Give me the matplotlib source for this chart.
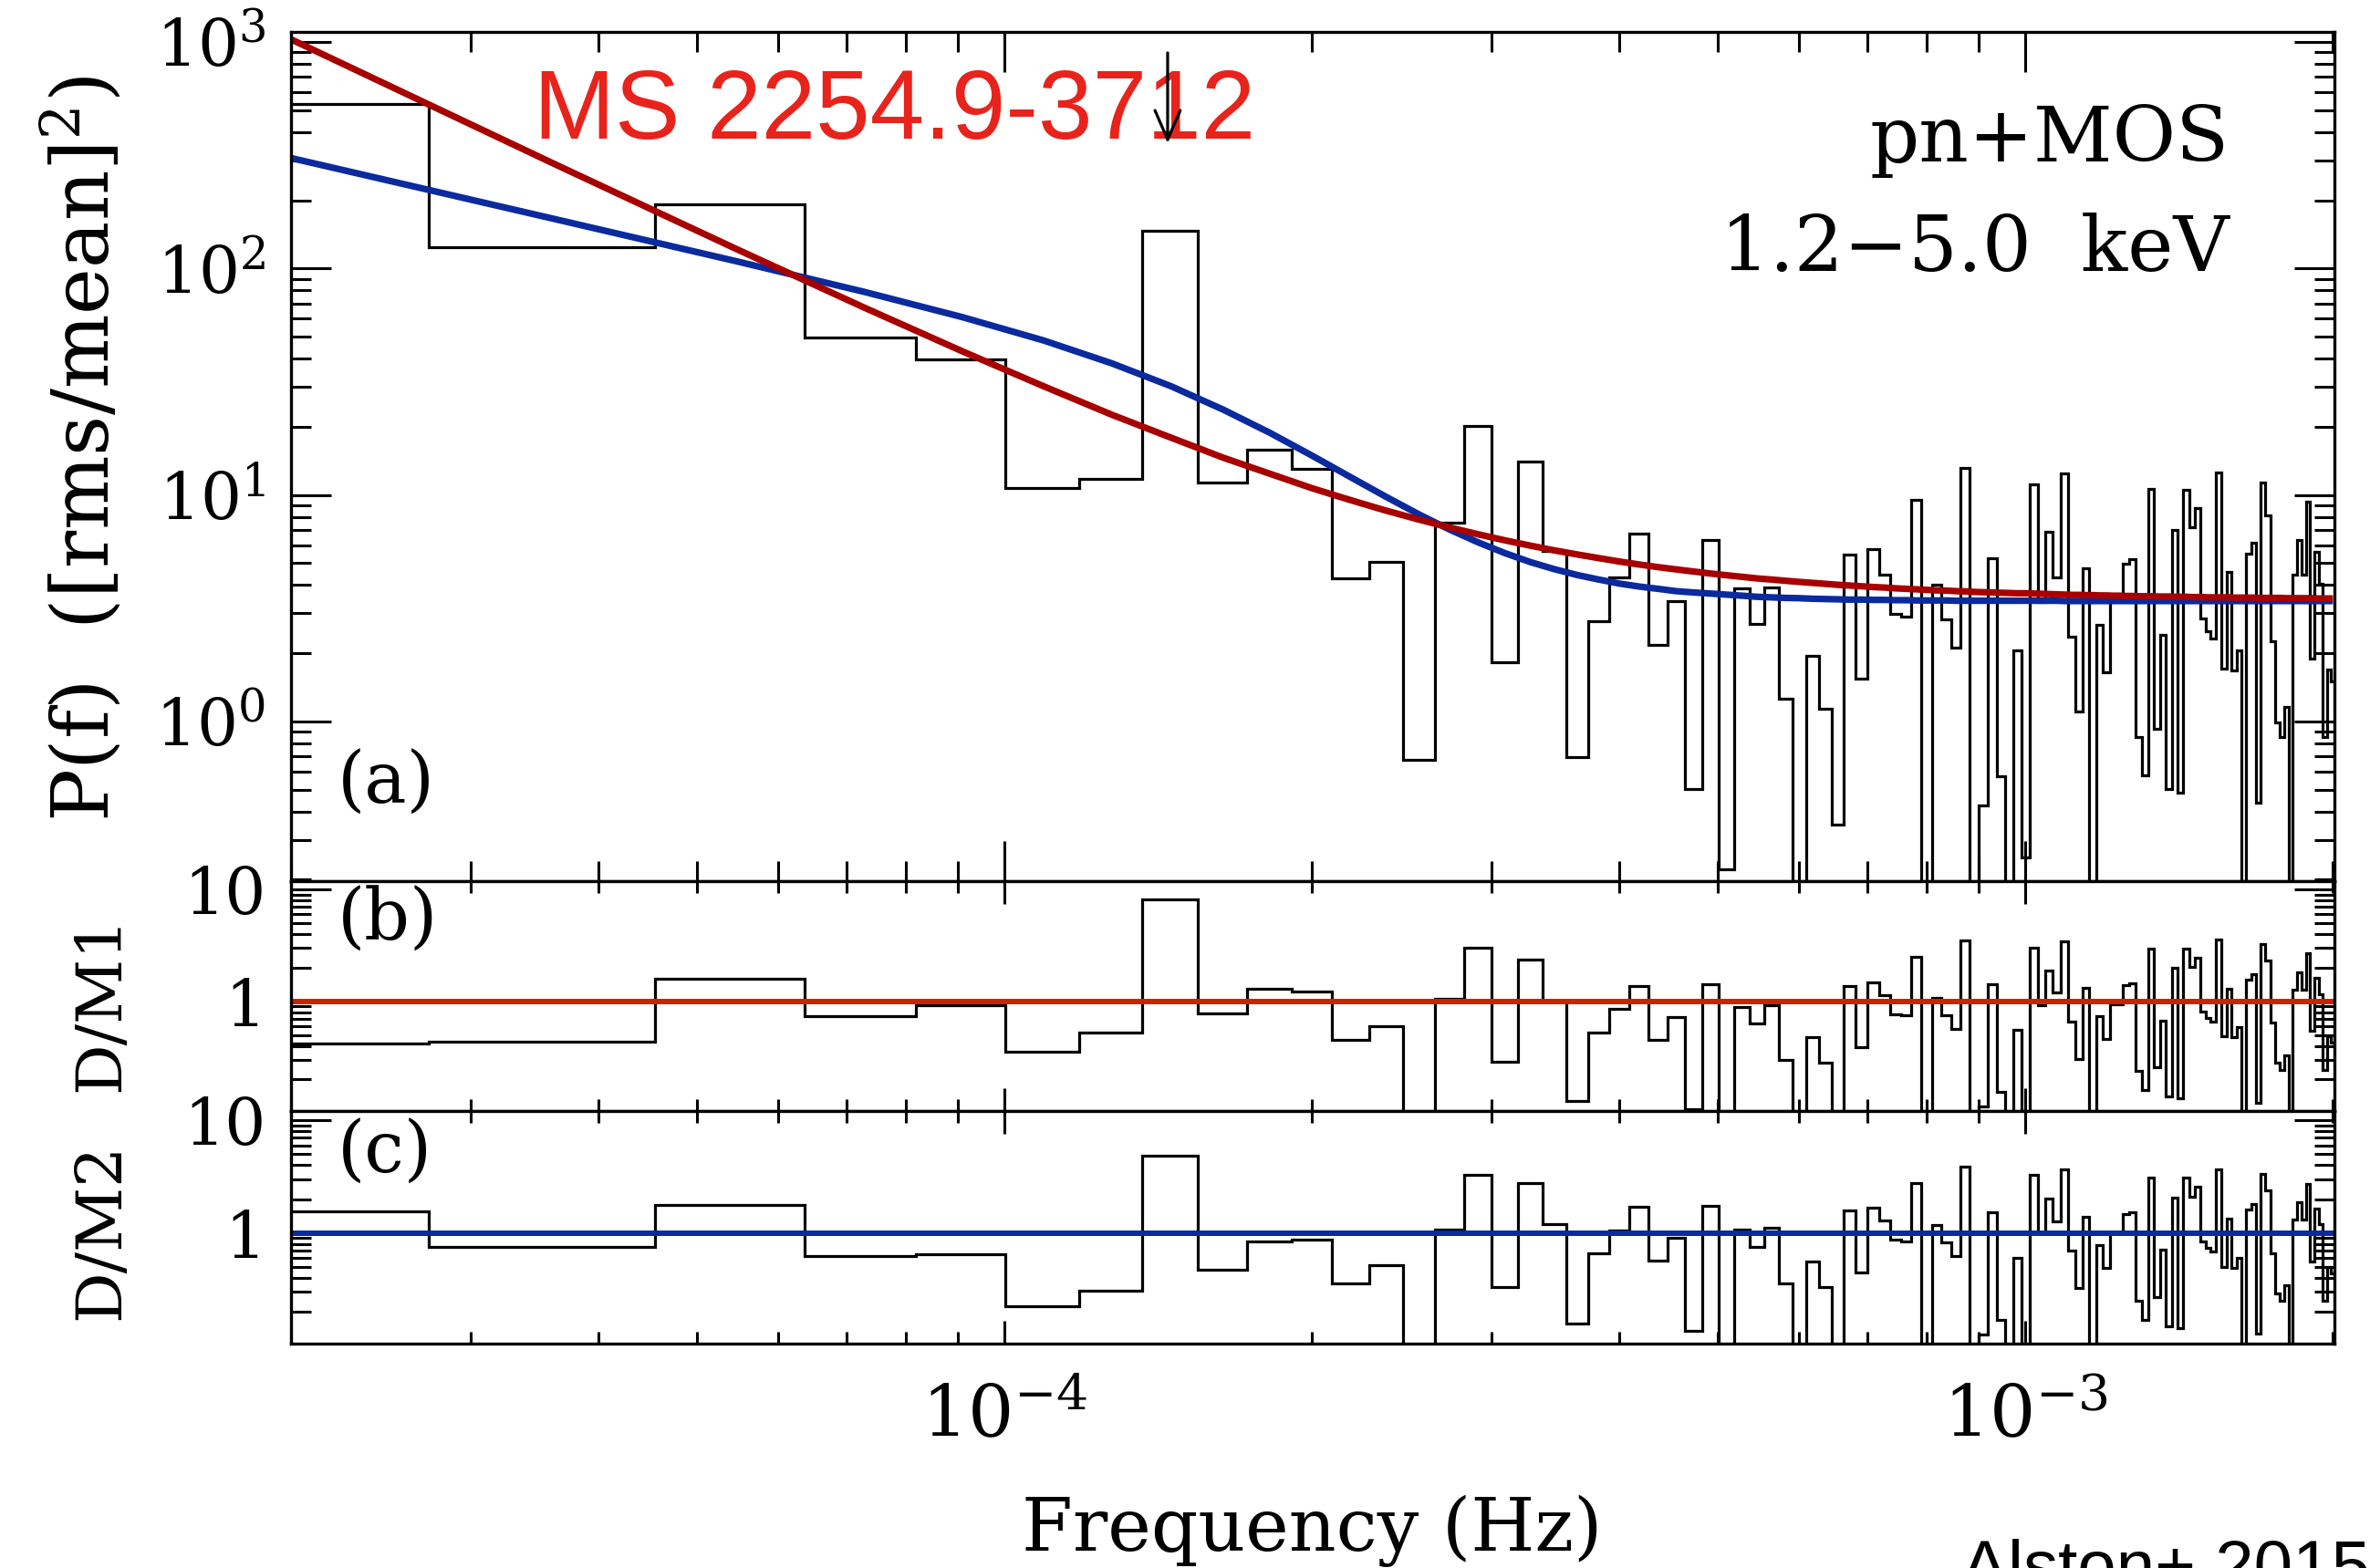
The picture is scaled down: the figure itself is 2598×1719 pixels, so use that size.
import matplotlib
matplotlib.use('Agg')
import matplotlib.pyplot as plt
from matplotlib.ticker import LogLocator, NullFormatter
import numpy as np

# periodogram resolution (Hz); bins n = 1..110 sit at n * DF
DF = 1.82e-5
bin_index = np.arange(1, 111)

# binned power P(f); 0.08 = bins that fall below the axis
power = [
    530, 124, 192, 49.6, 39.6, 10.7, 11.8, 146, 11.3, 15.9,
    13.0, 4.27, 5.08, 0.675, 7.52, 20.2, 1.83, 14.0, 5.64, 0.696,
    2.78, 4.31, 6.75, 2.17, 3.39, 0.503, 6.34, 0.222, 3.87, 2.69,
    3.90, 1.26, 0.08, 1.94, 1.14, 0.350, 5.44, 1.54, 5.78, 4.45,
    2.98, 2.90, 9.48, 0.08, 4.03, 2.82, 2.12, 13.2, 0.08, 0.424,
    5.24, 0.573, 0.08, 2.05, 0.251, 11.1, 3.37, 6.86, 4.34, 12.5,
    2.36, 1.11, 4.73, 0.08, 2.67, 1.65, 3.40, 3.40, 4.96, 5.19,
    0.851, 0.578, 10.6, 0.925, 2.40, 0.503, 7.02, 0.483, 10.5, 7.18,
    8.73, 2.84, 2.51, 2.32, 12.6, 1.71, 4.58, 1.68, 2.05, 0.08,
    5.52, 6.15, 0.438, 11.3, 8.12, 2.25, 0.99, 0.85, 1.16, 0.08,
    4.45, 6.34, 4.45, 9.34, 1.90, 5.61, 4.05, 0.85, 1.70, 1.50,
]

# model 1 (red curve) read at the bin frequencies
model1 = [
    1256, 286.3, 121.9, 67.3, 43.0, 30.2, 22.6, 17.9, 14.6, 12.4,
    10.7, 9.48, 8.52, 7.78, 7.18, 6.70, 6.30, 5.97, 5.69, 5.46,
    5.26, 5.08, 4.93, 4.80, 4.69, 4.59, 4.50, 4.42, 4.35, 4.28,
    4.23, 4.18, 4.13, 4.09, 4.05, 4.01, 3.98, 3.95, 3.92, 3.90,
    3.87, 3.85, 3.83, 3.81, 3.79, 3.78, 3.76, 3.75, 3.73, 3.72,
    3.71, 3.70, 3.69, 3.68, 3.68, 3.67, 3.66, 3.65, 3.64, 3.63,
    3.62, 3.62, 3.61, 3.61, 3.60, 3.60, 3.59, 3.59, 3.58, 3.58,
    3.57, 3.57, 3.57, 3.56, 3.56, 3.56, 3.55, 3.55, 3.55, 3.54,
    3.54, 3.54, 3.53, 3.53, 3.53, 3.53, 3.53, 3.52, 3.52, 3.52,
    3.52, 3.52, 3.51, 3.51, 3.51, 3.51, 3.51, 3.51, 3.50, 3.50,
    3.50, 3.50, 3.50, 3.50, 3.50, 3.49, 3.49, 3.49, 3.49, 3.49,
]

# model 2 (blue curve, bending power law) read at the bin frequencies
model2 = [
    338.9, 164.5, 107.6, 78.9, 60.9, 48.1, 38.1, 30.2, 23.8, 18.8,
    14.9, 11.97, 9.80, 8.20, 7.03, 6.17, 5.53, 5.05, 4.70, 4.43,
    4.23, 4.06, 3.94, 3.85, 3.76, 3.71, 3.67, 3.63, 3.59, 3.55,
    3.53, 3.51, 3.50, 3.48, 3.47, 3.46, 3.45, 3.45, 3.44, 3.44,
    3.43, 3.43, 3.42, 3.42, 3.42, 3.42, 3.41, 3.41, 3.41, 3.41,
    3.41, 3.41, 3.41, 3.41, 3.41, 3.41, 3.41, 3.41, 3.41, 3.40,
    3.40, 3.40, 3.40, 3.40, 3.40, 3.40, 3.40, 3.40, 3.40, 3.40,
    3.40, 3.40, 3.40, 3.40, 3.40, 3.40, 3.40, 3.40, 3.40, 3.40,
    3.40, 3.40, 3.40, 3.40, 3.40, 3.40, 3.40, 3.40, 3.40, 3.40,
    3.40, 3.40, 3.40, 3.40, 3.40, 3.40, 3.40, 3.40, 3.40, 3.40,
    3.40, 3.40, 3.40, 3.40, 3.40, 3.40, 3.40, 3.40, 3.40, 3.40,
]

# candidate feature marked by the arrow (Hz) and the arrow's extent in P
qpo_freq = 1.445e-4
arrow_top, arrow_tip = 895, 357

RED = '#a80000'
BLUE = '#0a2a9e'
ORANGE = '#c82400'
TITLE_RED = '#e8231b'

plt.rcParams['font.family'] = ['DejaVu Serif']
plt.rcParams['mathtext.fontset'] = 'dejavuserif'


def style_axis(ax, xmaj, xmin, ymaj=31.7, ymin=15.8):
    ax.set_xscale('log')
    ax.set_yscale('log')
    ax.set_xlim(2e-5, 2.007e-3)
    for s in ax.spines.values():
        s.set_linewidth(2.4)
    ax.tick_params(which='both', direction='in', top=True, right=True,
                   width=2.2, labelsize=51, pad=20)
    ax.xaxis.set_tick_params(which='major', length=xmaj)
    ax.xaxis.set_tick_params(which='minor', length=xmin)
    ax.yaxis.set_tick_params(which='major', length=ymaj)
    ax.yaxis.set_tick_params(which='minor', length=ymin)
    ax.set_xticks([1e-4, 1e-3])
    ax.xaxis.set_minor_locator(LogLocator(base=10, subs=np.arange(2, 10)))
    ax.xaxis.set_minor_formatter(NullFormatter())
    ax.yaxis.set_minor_locator(LogLocator(base=10, subs=np.arange(2, 10)))
    ax.yaxis.set_minor_formatter(NullFormatter())


def main():
    freq = bin_index * DF
    edges = (np.arange(0, 111) + 0.5) * DF
    p = np.array(power)
    m1 = np.array(model1)
    m2 = np.array(model2)

    fig = plt.figure(figsize=(25.98, 17.19), dpi=100)
    left, width = 0.12279, 0.86201
    ax_a = fig.add_axes([left, 0.43822, width, 0.54142])
    ax_b = fig.add_axes([left, 0.29127, width, 0.14695])
    ax_c = fig.add_axes([left, 0.14293, width, 0.14834])

    # panel (a): power spectrum with the two models
    style_axis(ax_a, 31.7, 15.8)
    ax_a.stairs(p, edges, baseline=None, color='black', lw=2.3)
    ax_a.plot(freq, m2, color=BLUE, lw=5.2, solid_capstyle='butt')
    ax_a.plot(freq, m1, color=RED, lw=5.2, solid_capstyle='butt')
    ax_a.set_ylim(0.1977, 1107)
    ax_a.set_yticks([1, 10, 100, 1000])
    ax_a.set_yticklabels(['$10^{0}$', '$10^{1}$', '$10^{2}$', '$10^{3}$'])
    ax_a.set_xticklabels([])
    # source name sits under the arrow, so it lives in the axes
    ax_a.text(0.2252, 0.9116, 'MS 2254.9-3712', fontsize=77, color=TITLE_RED,
              family='Liberation Sans', ha='left', va='baseline',
              transform=fig.transFigure, zorder=5)
    ax_a.annotate('', xy=(qpo_freq, arrow_tip), xytext=(qpo_freq, arrow_top),
                  xycoords='data', textcoords='data', annotation_clip=False,
                  zorder=10,
                  arrowprops=dict(arrowstyle='->,head_length=1.15,head_width=0.5',
                                  mutation_scale=20, color='black', lw=2.3,
                                  shrinkA=0, shrinkB=0))
    ax_a.text(0.0225, 0.115, '(a)', transform=ax_a.transAxes, fontsize=56,
              va='center', ha='left')

    # panel (b): data / model 1
    style_axis(ax_b, 18, 9.5)
    ax_b.stairs(p / m1, edges, baseline=None, color='black', lw=2.3)
    ax_b.axhline(1, color=ORANGE, lw=4.3)
    ax_b.set_ylim(0.104, 11.9)
    ax_b.set_yticks([1, 10])
    ax_b.set_yticklabels(['1', '10'])
    ax_b.set_xticklabels([])
    ax_b.text(0.0225, 0.83, '(b)', transform=ax_b.transAxes, fontsize=56,
              va='center', ha='left')

    # panel (c): data / model 2
    style_axis(ax_c, 18, 9.5)
    ax_c.stairs(p / m2, edges, baseline=None, color='black', lw=2.3)
    ax_c.axhline(1, color=BLUE, lw=4.3)
    ax_c.set_ylim(0.1035, 12.05)
    ax_c.set_yticks([1, 10])
    ax_c.set_yticklabels(['1', '10'])
    ax_c.set_xticklabels(['$10^{-4}$', '$10^{-3}$'])
    ax_c.xaxis.set_tick_params(which='major', labelsize=57, pad=30)
    ax_c.text(0.0225, 0.82, '(c)', transform=ax_c.transAxes, fontsize=56,
              va='center', ha='left')

    # labels and annotations
    fig.text(0.035, 0.7138, 'P(f)  ([rms/mean]$^{2}$)', rotation=90,
             fontsize=62, ha='center', va='center')
    fig.text(0.0427, 0.3600, 'D/M1', rotation=90, fontsize=50,
             ha='center', va='center')
    fig.text(0.0427, 0.2147, 'D/M2', rotation=90, fontsize=50,
             ha='center', va='center')
    fig.text(0.5535, 0.0110, 'Frequency (Hz)', fontsize=58,
             ha='center', va='baseline')
    fig.text(0.9407, 0.8970, 'pn+MOS', fontsize=61, ha='right', va='baseline')
    fig.text(0.9407, 0.8272, '1.2\u22125.0  keV', fontsize=61, ha='right',
             va='baseline')
    fig.text(0.8276, 0.0186, 'Alston+ 2015', fontsize=55,
             family='Liberation Sans', ha='left', va='top')

    fig.savefig('out.png', dpi=100)
    plt.close(fig)


if __name__ == '__main__':
    main()
